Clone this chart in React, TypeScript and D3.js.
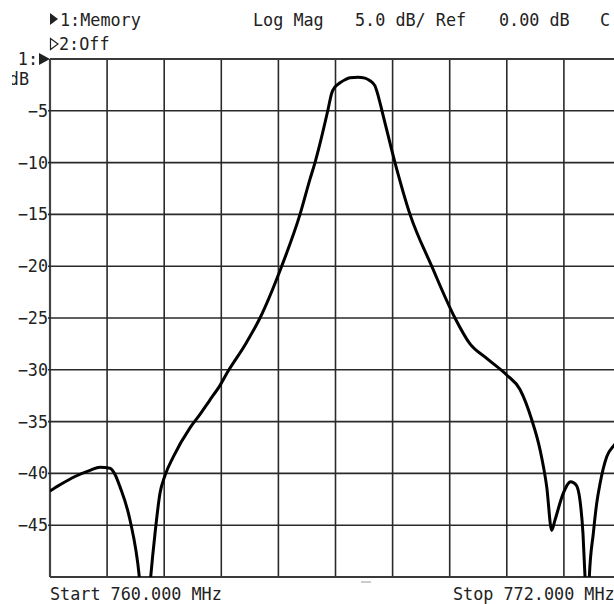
import React from "react";
import * as d3 from "d3";

// Sweep settings
const START_MHZ = 760;
const STOP_MHZ = 772;
const REF_DB = 0;
const DB_PER_DIV = 5;
const DIVISIONS = 10;

// Y-axis labels shown beside the graticule
const yTickLabels = [-5, -10, -15, -20, -25, -30, -35, -40, -45];

// Memory trace: frequency (MHz) and log magnitude (dB)
const freqMHz = [
  760.0, 760.21, 760.525, 760.841, 761.051, 761.261, 761.366, 761.471, 761.681,
  761.877, 761.997, 762.116, 762.207, 762.312, 762.417, 762.591, 762.942,
  763.152, 763.363, 763.573, 763.747, 764.098, 764.413, 764.869, 765.254,
  765.464, 765.569, 765.639, 765.842, 765.92, 765.99, 766.095, 766.2, 766.305,
  766.473, 766.62, 766.725, 766.83, 766.9, 766.977, 767.25, 767.566,
  768.022, 768.511, 768.827, 769.178, 769.598, 769.877, 770.123, 770.298,
  770.439, 770.544, 770.613, 770.788, 770.943, 771.054, 771.138, 771.201,
  771.244, 771.29, 771.334, 771.418, 771.489, 771.559, 771.7, 771.853, 772.0,
];
const magDb = [
  -41.7, -41.1, -40.3, -39.7, -39.4, -39.5, -40.1, -41.3, -44.5,
  -50.0, -57.0, -50.0, -45.8, -41.9, -40.2, -38.4, -35.6,
  -34.3, -32.9, -31.5, -30.1, -27.6, -25.0, -20.0, -15.0,
  -11.6, -10.0, -8.8, -4.9, -3.3, -2.7, -2.3, -2.0, -1.8,
  -1.75, -1.85, -2.1, -2.6, -3.6, -5.0, -10.0, -15.0,
  -20.0, -25.0, -27.5, -28.9, -30.5, -31.9, -34.8, -37.7,
  -41.3, -45.5, -44.5, -41.9, -40.8, -41.1, -42.6, -45.8,
  -50.0, -56.0, -50.0, -45.8, -42.9, -41.0, -38.4, -37.3, -36.5,
];

const W = 614;
const H = 604;
const FONT = "'DejaVu Sans Mono', monospace";
const FS = 16.8;
const INK = "#222";

export default function App() {
  const x = d3.scaleLinear().domain([START_MHZ, STOP_MHZ]).range([50, 621]);
  const y = d3
    .scaleLinear()
    .domain([REF_DB - DB_PER_DIV * DIVISIONS, REF_DB])
    .range([577, 59]);

  const step = (STOP_MHZ - START_MHZ) / DIVISIONS;
  const vLines = d3.range(DIVISIONS + 1).map((i) => START_MHZ + i * step);
  const hLines = d3.range(DIVISIONS + 1).map((i) => REF_DB - i * DB_PER_DIV);

  const pts = freqMHz.map((f, i) => [f, magDb[i]] as [number, number]);
  const line = d3
    .line<[number, number]>()
    .x((d) => x(d[0]))
    .y((d) => y(d[1]))
    .curve(d3.curveMonotoneX);

  const [x0, x1] = x.range();
  const [yb, yt] = y.range();

  return (
    <svg
      width={W}
      height={H}
      style={{ position: "absolute", left: 0, top: 0, background: "#fff" }}
      fontFamily={FONT}
      fontSize={FS}
    >
      <defs>
        <clipPath id="plotArea">
          <rect x={x0} y={yt} width={x1 - x0} height={yb - yt} />
        </clipPath>
        <clipPath id="unitClip">
          <rect x={12} y={60} width={40} height={40} />
        </clipPath>
      </defs>
      <rect x={0} y={0} width={W} height={H} fill="#fff" />

      {/* header */}
      <path d="M50,13 L58,19 L50,25 Z" fill={INK} />
      <text x={60} y={26} fill={INK}>1:Memory</text>
      <path d="M50.5,38.5 L58,44 L50.5,49.5 Z" fill="none" stroke={INK} strokeWidth={1.2} />
      <text x={59} y={50} fill={INK}>2:Off</text>
      <text x={253} y={26} fill={INK}>Log Mag</text>
      <text x={355} y={26} fill={INK}>5.0 dB/ Ref</text>
      <text x={499} y={26} fill={INK}>0.00 dB</text>
      <text x={600} y={26} fill={INK}>C</text>

      {/* graticule */}
      {vLines.map((f, i) => (
        <line
          key={"v" + i}
          x1={x(f)}
          x2={x(f)}
          y1={yt}
          y2={yb}
          stroke={i === 0 ? "#444" : "#2a2a2a"}
          strokeWidth={i === 0 ? 2.2 : 1.6}
        />
      ))}
      {hLines.map((v, i) => (
        <line
          key={"h" + i}
          x1={i === 0 || i === DIVISIONS ? x0 : x0 - 2}
          x2={x1}
          y1={y(v)}
          y2={y(v)}
          stroke={i === 0 || i === DIVISIONS ? "#3a3a3a" : "#2a2a2a"}
          strokeWidth={i === 0 || i === DIVISIONS ? 2.2 : 1.6}
        />
      ))}

      {/* y labels */}
      {yTickLabels.map((v) => (
        <text key={v} x={48} y={y(v) + 6} textAnchor="end" fill={INK}>
          {"\u2212" + Math.abs(v)}
        </text>
      ))}
      <text x={38} y={65} textAnchor="end" fill={INK}>1:</text>
      <path d="M39,53 L50,59 L39,65 Z" fill={INK} />
      <g clipPath="url(#unitClip)">
        <text x={29} y={85} textAnchor="end" fill={INK}>dB</text>
      </g>

      {/* trace */}
      <path
        d={line(pts) ?? ""}
        fill="none"
        stroke="#000"
        strokeWidth={3}
        strokeLinejoin="round"
        clipPath="url(#plotArea)"
      />

      {/* sweep marker below graticule */}
      <rect x={361} y={581} width={10} height={2} fill="#ccc" />

      {/* footer */}
      <text x={50} y={600} fill={INK}>Start 760.000 MHz</text>
      <text x={453} y={600} fill={INK}>Stop 772.000 MHz</text>
    </svg>
  );
}
